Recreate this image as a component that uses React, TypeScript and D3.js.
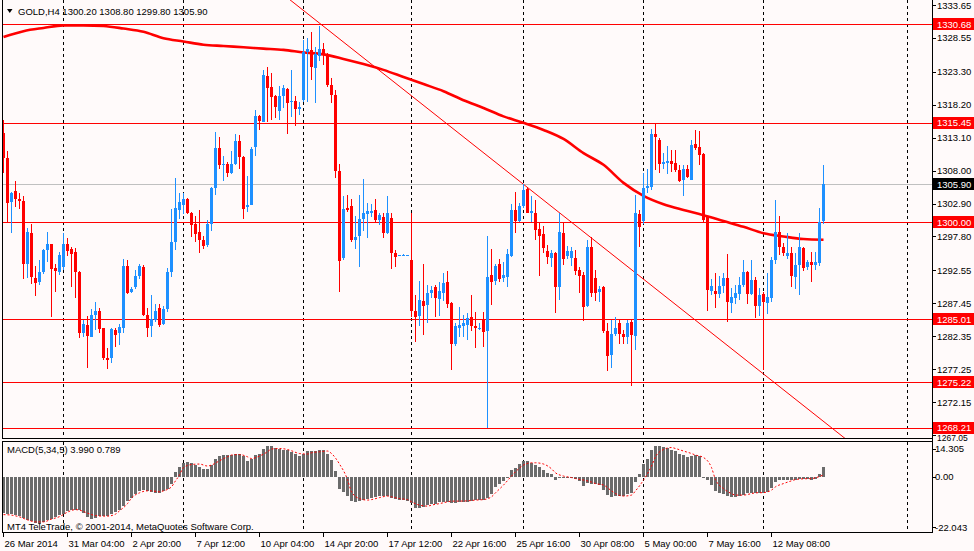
import * as d3 from 'd3';

// GOLD H4 candles (bar 0 = 26 Mar 2014)
const opens = [
  1313.8, 1310.0, 1303.2, 1304.8, 1303.6, 1303.3, 1293.6, 1298.3, 1291.3, 1290.8,
  1292.3, 1295.7, 1296.6, 1292.9, 1292.3, 1293.0, 1296.6, 1295.8, 1295.4, 1292.3,
  1282.8, 1284.1, 1282.3, 1285.6, 1286.3, 1283.6, 1279.0, 1279.0, 1283.3, 1282.8,
  1283.7, 1293.2, 1289.2, 1290.0, 1291.6, 1293.1, 1285.7, 1283.9, 1284.9, 1286.7,
  1284.3, 1286.6, 1292.3, 1297.0, 1301.9, 1302.7, 1303.6, 1301.5, 1299.7, 1298.5,
  1297.3, 1296.5, 1299.8, 1305.3, 1311.5, 1308.9, 1309.1, 1307.7, 1309.1, 1312.6,
  1310.1, 1302.3, 1302.7, 1311.7, 1316.5, 1315.6, 1322.6, 1321.0, 1319.5, 1317.3,
  1319.5, 1320.7, 1318.7, 1318.8, 1317.6, 1319.0, 1326.4, 1326.7, 1323.9, 1325.7,
  1326.9, 1326.1, 1321.2, 1319.7, 1308.0, 1294.4, 1302.2, 1302.5, 1297.2, 1297.8,
  1300.5, 1301.3, 1301.5, 1301.9, 1300.3, 1300.8, 1298.3, 1300.6, 1295.3, 1294.9,
  1294.9, 1294.9, 1294.1, 1286.3, 1285.5, 1287.8, 1287.2, 1289.1, 1289.9, 1288.1,
  1289.1, 1290.8, 1287.5, 1281.1, 1283.6, 1284.0, 1284.1, 1285.3, 1284.0, 1283.7,
  1284.9, 1283.2, 1291.8, 1290.9, 1293.5, 1291.4, 1291.5, 1294.8, 1301.9, 1300.2,
  1302.5, 1305.1, 1301.5, 1301.4, 1298.9, 1298.2, 1295.6, 1294.5, 1295.3, 1289.9,
  1298.3, 1294.8, 1294.5, 1294.5, 1292.6, 1291.8, 1287.0, 1296.1, 1291.3, 1289.2,
  1290.0, 1283.2, 1279.4, 1282.7, 1284.4, 1282.7, 1282.2, 1284.6, 1282.4, 1301.3,
  1300.2, 1305.3, 1305.4, 1313.6, 1312.7, 1309.0, 1309.2, 1309.5, 1309.2, 1308.1,
  1306.5, 1308.3, 1306.6, 1312.1, 1311.6, 1310.6, 1300.9, 1289.4, 1289.4, 1288.9,
  1290.1, 1291.4, 1287.5, 1288.2, 1288.9, 1290.3, 1292.3, 1288.9, 1291.0, 1287.0,
  1288.9, 1287.5, 1288.2, 1294.1, 1298.5, 1296.1, 1294.8, 1295.2, 1291.5, 1293.4,
  1296.0, 1293.0, 1293.9, 1293.4, 1293.7, 1300.2,
];
const highs = [
  1315.9, 1311.1, 1304.7, 1306.4, 1304.6, 1304.0, 1299.1, 1299.7, 1293.2, 1294.1,
  1295.8, 1298.5, 1296.6, 1293.6, 1295.4, 1298.3, 1297.6, 1296.2, 1296.0, 1292.4,
  1284.9, 1285.5, 1286.5, 1287.7, 1286.7, 1283.7, 1280.6, 1283.6, 1283.7, 1284.2,
  1294.3, 1294.1, 1290.0, 1292.6, 1293.5, 1293.4, 1286.7, 1288.7, 1287.4, 1287.3,
  1287.0, 1292.9, 1302.0, 1306.9, 1304.5, 1304.5, 1303.7, 1301.6, 1300.9, 1301.9,
  1297.8, 1300.3, 1305.5, 1314.0, 1313.2, 1310.2, 1309.3, 1311.0, 1313.6, 1313.5,
  1310.2, 1307.1, 1311.7, 1317.4, 1316.6, 1323.6, 1324.1, 1323.1, 1319.7, 1321.1,
  1321.3, 1320.8, 1323.6, 1319.5, 1318.7, 1328.3, 1328.6, 1329.4, 1327.1, 1330.4,
  1327.7, 1326.2, 1322.3, 1320.5, 1309.1, 1304.1, 1304.2, 1303.6, 1300.9, 1304.2,
  1306.7, 1303.0, 1302.9, 1303.6, 1301.4, 1301.4, 1304.0, 1301.4, 1295.7, 1295.0,
  1295.1, 1295.0, 1301.5, 1288.7, 1290.9, 1293.6, 1290.3, 1290.2, 1290.3, 1290.8,
  1292.2, 1292.5, 1287.6, 1284.4, 1286.9, 1285.6, 1285.9, 1288.7, 1286.1, 1284.4,
  1286.1, 1297.9, 1295.9, 1293.6, 1294.3, 1293.8, 1295.9, 1302.9, 1304.7, 1303.0,
  1306.0, 1305.4, 1304.0, 1303.4, 1299.9, 1299.4, 1296.5, 1295.7, 1295.4, 1301.4,
  1299.9, 1296.3, 1296.2, 1295.7, 1293.1, 1292.3, 1297.2, 1297.7, 1292.6, 1290.1,
  1290.1, 1284.4, 1284.9, 1285.3, 1284.8, 1283.3, 1284.9, 1284.9, 1304.2, 1301.9,
  1307.7, 1308.3, 1314.5, 1315.3, 1313.0, 1310.7, 1311.8, 1311.2, 1311.2, 1308.9,
  1308.9, 1308.9, 1312.7, 1314.3, 1314.2, 1310.7, 1301.0, 1291.2, 1292.1, 1291.6,
  1292.1, 1295.1, 1289.8, 1290.3, 1291.5, 1294.1, 1292.4, 1294.1, 1291.5, 1289.8,
  1289.2, 1292.1, 1294.6, 1303.4, 1300.9, 1296.8, 1298.3, 1296.2, 1295.3, 1298.3,
  1296.2, 1294.1, 1295.4, 1295.4, 1302.2, 1308.8,
];
const lows = [
  1307.7, 1300.0, 1298.3, 1302.4, 1302.1, 1291.2, 1291.4, 1290.4, 1288.6, 1290.3,
  1292.0, 1293.9, 1285.4, 1289.2, 1291.8, 1292.6, 1294.8, 1290.0, 1288.2, 1282.0,
  1282.3, 1277.5, 1282.2, 1283.3, 1282.8, 1278.6, 1277.3, 1278.2, 1280.7, 1281.0,
  1282.8, 1288.9, 1289.1, 1289.7, 1291.2, 1285.5, 1282.3, 1282.3, 1284.6, 1283.8,
  1284.1, 1286.1, 1291.5, 1295.7, 1300.5, 1301.3, 1301.3, 1297.7, 1297.0, 1295.2,
  1295.8, 1296.2, 1298.7, 1304.2, 1308.3, 1306.4, 1307.0, 1307.5, 1308.9, 1308.3,
  1300.5, 1301.6, 1302.6, 1310.3, 1314.3, 1315.5, 1315.6, 1315.8, 1316.2, 1315.8,
  1317.7, 1313.6, 1316.3, 1314.9, 1316.6, 1318.7, 1318.7, 1322.0, 1318.4, 1324.9,
  1324.4, 1321.0, 1318.5, 1306.8, 1289.2, 1294.1, 1301.6, 1297.0, 1295.8, 1293.1,
  1298.7, 1297.5, 1300.8, 1300.1, 1299.6, 1297.5, 1298.2, 1292.7, 1293.1, 1294.8,
  1294.8, 1294.8, 1285.4, 1281.5, 1284.0, 1282.5, 1284.4, 1288.2, 1285.4, 1285.5,
  1287.8, 1286.7, 1277.1, 1280.8, 1282.3, 1282.3, 1281.8, 1283.1, 1280.6, 1283.3,
  1280.7, 1268.2, 1287.2, 1290.3, 1290.8, 1290.8, 1290.0, 1294.6, 1298.3, 1300.0,
  1302.2, 1301.4, 1300.1, 1297.2, 1291.6, 1295.2, 1293.5, 1293.1, 1285.9, 1288.0,
  1293.4, 1294.3, 1293.2, 1291.8, 1289.0, 1284.7, 1286.8, 1288.5, 1287.8, 1287.7,
  1282.8, 1276.9, 1277.5, 1282.4, 1281.2, 1281.2, 1281.2, 1274.7, 1280.2, 1296.2,
  1299.8, 1304.5, 1305.0, 1308.1, 1307.7, 1308.3, 1307.5, 1307.8, 1307.8, 1306.2,
  1304.0, 1306.8, 1306.5, 1311.2, 1308.9, 1300.1, 1286.3, 1288.7, 1286.7, 1288.2,
  1289.1, 1284.6, 1285.9, 1287.4, 1288.0, 1290.0, 1287.3, 1288.7, 1285.1, 1285.5,
  1277.1, 1285.8, 1287.7, 1293.6, 1294.9, 1294.8, 1294.3, 1290.0, 1289.7, 1288.7,
  1292.4, 1292.6, 1290.8, 1292.6, 1293.2, 1299.8,
];
const closes = [
  1310.0, 1303.0, 1304.5, 1303.6, 1303.3, 1293.5, 1298.5, 1291.5, 1290.6, 1292.3,
  1295.7, 1296.6, 1292.8, 1292.5, 1294.9, 1296.6, 1295.6, 1295.1, 1292.3, 1282.8,
  1284.2, 1282.4, 1285.6, 1286.3, 1283.4, 1278.9, 1278.6, 1283.5, 1282.6, 1283.8,
  1293.2, 1289.1, 1289.7, 1291.6, 1293.2, 1285.7, 1283.7, 1285.0, 1286.3, 1284.1,
  1286.5, 1292.3, 1297.0, 1302.2, 1303.1, 1303.6, 1301.4, 1299.6, 1298.2, 1297.2,
  1296.3, 1299.7, 1305.3, 1311.5, 1308.9, 1309.1, 1307.7, 1309.1, 1312.6, 1310.1,
  1302.1, 1302.7, 1311.3, 1316.5, 1315.7, 1322.8, 1320.8, 1319.4, 1317.8, 1319.5,
  1320.8, 1318.5, 1318.8, 1317.5, 1317.8, 1326.4, 1326.8, 1324.1, 1326.1, 1326.9,
  1326.1, 1321.2, 1319.7, 1308.0, 1294.0, 1302.0, 1301.9, 1297.2, 1297.7, 1300.5,
  1301.4, 1301.8, 1301.8, 1300.3, 1301.1, 1298.3, 1301.5, 1295.2, 1294.6, 1294.9,
  1294.9, 1295.0, 1286.3, 1285.4, 1288.0, 1287.1, 1289.0, 1289.5, 1288.2, 1289.4,
  1290.6, 1287.3, 1281.1, 1284.0, 1284.1, 1284.4, 1285.2, 1284.0, 1283.7, 1283.7,
  1283.0, 1291.5, 1290.8, 1293.3, 1291.2, 1291.8, 1295.1, 1301.9, 1300.2, 1302.5,
  1305.0, 1301.5, 1301.7, 1298.8, 1297.9, 1296.0, 1294.6, 1295.2, 1290.0, 1298.5,
  1294.3, 1295.6, 1295.6, 1292.4, 1291.6, 1286.9, 1296.1, 1289.1, 1289.1, 1289.6,
  1283.1, 1279.3, 1282.7, 1283.7, 1282.7, 1282.2, 1284.4, 1282.5, 1301.4, 1299.2,
  1305.3, 1305.6, 1313.6, 1313.2, 1309.1, 1309.4, 1309.5, 1309.0, 1308.1, 1306.4,
  1308.3, 1307.0, 1312.0, 1311.5, 1310.4, 1300.3, 1289.5, 1290.1, 1288.9, 1290.1,
  1291.4, 1287.7, 1288.5, 1289.0, 1290.3, 1292.3, 1288.9, 1291.0, 1287.0, 1288.7,
  1287.7, 1288.5, 1294.1, 1298.5, 1296.1, 1295.2, 1295.2, 1291.6, 1293.4, 1296.1,
  1292.9, 1293.9, 1293.4, 1293.9, 1300.1, 1305.9,
];

// long moving average, sampled every 5 bars
const maIdx = [0, 5, 10, 15, 20, 25, 30, 35, 40, 45, 50, 55, 60, 65, 70, 75, 80, 85, 90, 95, 100,
  105, 110, 115, 120, 125, 130, 135, 140, 145, 150, 155, 160, 165, 170, 175, 180, 185, 190, 195, 200, 205];
const maVal = [1328.7, 1329.6, 1330.1, 1330.5, 1330.5, 1330.4, 1330.0, 1329.5, 1328.5, 1328.0, 1327.5,
  1327.3, 1327.1, 1326.9, 1326.7, 1326.3, 1326.0, 1325.3, 1324.5, 1323.6, 1322.5, 1321.4, 1320.3,
  1318.9, 1317.7, 1316.4, 1315.4, 1314.3, 1312.9, 1310.7, 1308.9, 1306.1, 1304.1, 1302.8, 1301.9,
  1301.1, 1300.2, 1299.3, 1298.3, 1297.8, 1297.4, 1297.3];

// MACD(5,34,5) histogram, one per bar
const macd = [
  -14.4, -14.7, -14.9, -15.2, -15.7, -16.4, -17.1, -17.7, -18.4, -18.7,
  -18.1, -17.3, -16.7, -16.0, -15.3, -14.7, -13.6, -13.1, -13.1, -13.3,
  -14.4, -16.0, -16.7, -16.3, -15.7, -15.6, -15.7, -14.9, -14.1, -13.3,
  -11.7, -9.6, -8.3, -6.9, -5.7, -5.3, -5.6, -6.1, -6.4, -6.4,
  -5.6, -4.7, -2.7, 2.0, 4.0, 5.6, 5.9, 5.6, 4.9, 4.0,
  3.2, 3.2, 4.7, 7.3, 8.3, 8.7, 8.8, 8.9, 9.3, 9.1,
  8.3, 6.4, 7.3, 8.9, 9.3, 11.3, 12.3, 12.3, 11.5, 11.1,
  10.9, 10.7, 10.0, 9.3, 8.3, 9.3, 10.4, 10.4, 10.4, 10.7,
  10.7, 9.3, 6.9, 2.4, -4.7, -6.0, -7.7, -9.6, -10.0, -9.6,
  -9.1, -8.8, -8.5, -8.0, -7.7, -7.5, -7.7, -8.3, -8.8, -9.1,
  -9.3, -9.6, -10.4, -12.3, -12.3, -12.0, -11.3, -10.9, -10.7, -10.1,
  -10.0, -10.1, -10.3, -10.3, -10.1, -10.0, -9.9, -9.6, -9.3, -9.3,
  -9.1, -8.3, -6.7, -4.0, -2.7, -1.7, -0.3, 2.7, 3.7, 5.3,
  6.4, 6.4, 5.6, 4.7, 4.0, 2.9, 1.7, 1.1, -1.3, -0.3,
  0.0, -0.1, -0.3, -0.7, -1.6, -3.5, -2.4, -2.7, -2.9, -3.3,
  -5.3, -7.3, -8.0, -7.7, -7.5, -7.5, -6.9, -6.4, -2.0, 1.3,
  5.3, 7.3, 10.7, 12.3, 12.3, 12.0, 11.5, 10.9, 10.4, 9.3,
  8.7, 8.0, 8.3, 8.7, 8.3, -0.3, -1.1, -3.3, -5.6, -6.4,
  -6.9, -7.5, -8.0, -8.0, -7.6, -7.1, -6.5, -6.4, -6.4, -6.4,
  -6.3, -5.9, -4.4, -2.0, -1.3, -1.1, -1.1, -1.3, -1.1, -0.9,
  -0.8, -0.9, -1.1, -0.7, 1.1, 3.99,
];

// signal line, read at these bars
const sigIdx = [0, 2, 4, 6, 8, 10, 12, 14, 16, 18, 19, 21, 23, 25, 26, 28, 29, 31, 32, 34, 36, 37, 39, 40,
  42, 43, 44, 45, 47, 49, 51, 52, 54, 56, 57, 59, 61, 62, 64, 66, 67, 69, 71, 72, 74, 76, 77, 79, 81, 82,
  84, 86, 87, 89, 91, 92, 94, 96, 97, 99, 101, 102, 104, 106, 107, 109, 111, 112, 114, 116, 118, 120,
  122, 123, 125, 127, 128, 130, 132, 133, 135, 137, 138, 140, 142, 143, 145, 147, 148, 150, 152, 153,
  155, 157, 158, 160, 162, 163, 165, 167, 168, 170, 172, 173, 175, 177, 178, 180, 182, 183, 185, 187,
  188, 190, 192, 193, 195, 197, 198, 200, 202, 203, 205];
const sigVal = [-15.1, -15.3, -16.0, -17.2, -18.0, -18.0, -16.9, -15.9, -14.1, -13.1, -13.3, -14.5, -15.5,
  -15.7, -15.7, -14.9, -13.6, -10.7, -8.5, -6.4, -5.6, -5.6, -6.0, -5.6, -4.0, -1.6, 0.7, 3.7, 4.9, 5.1,
  4.3, 4.7, 6.4, 8.0, 8.7, 8.9, 8.0, 7.3, 8.3, 10.0, 11.1, 11.3, 10.9, 10.4, 9.3, 9.1, 9.6, 10.0, 10.3,
  9.3, 5.1, -1.1, -6.0, -8.7, -9.3, -9.1, -8.3, -7.7, -8.0, -8.7, -9.1, -10.0, -11.3, -11.7, -11.3,
  -10.7, -10.0, -9.7, -9.7, -9.6, -9.3, -9.1, -8.0, -6.4, -3.3, 0.3, 2.0, 4.7, 5.6, 5.6, 5.1, 3.2, 1.6,
  0.3, -0.3, -0.7, -1.3, -2.1, -2.7, -3.3, -5.6, -6.7, -7.7, -7.3, -5.6, -1.3, 4.3, 8.0, 10.9, 11.7,
  11.3, 10.3, 9.3, 8.7, 7.7, 3.7, -1.1, -4.7, -6.7, -7.3, -7.3, -6.7, -6.4, -6.3, -5.3, -4.0, -2.7,
  -1.6, -1.1, -0.8, -0.7, -0.4, 0.789];

// drawn objects
const levels = [1330.68, 1315.45, 1300.0, 1285.01, 1275.22, 1268.21];
const bid = 1305.9;
const trendIdx = [75, 190];
const trendVal = [1332.8, 1276.5];

// axes
const priceTicks = ['1333.65', '1328.55', '1323.30', '1318.20', '1313.10', '1308.00', '1302.90',
  '1297.80', '1292.55', '1287.45', '1282.35', '1277.25', '1272.15', '1267.05'];
const macdTicks = [14.305, 0, -22.043];
const timeIdx = [0, 16, 32, 48, 64, 80, 96, 112, 128, 144, 160, 176, 192];
const timeLabels = ['26 Mar 2014', '31 Mar 04:00', '2 Apr 20:00', '7 Apr 12:00', '10 Apr 04:00',
  '14 Apr 20:00', '17 Apr 12:00', '22 Apr 16:00', '25 Apr 16:00', '30 Apr 08:00', '5 May 00:00',
  '7 May 16:00', '12 May 08:00'];
const gridIdx = [15, 45, 75, 102, 130, 160, 190, 226];

const W = 974;
const H = 551;
const AX = 932.5;
const BG = '#fffafa';
const BULL = '#1e90ff';
const BEAR = '#ff0000';
const FONT = '"Liberation Sans", Arial, sans-serif';

export default function App() {
  const x = d3.scaleLinear().domain([0, 205]).range([3.5, 823.5]);
  const y = d3.scaleLinear().domain([1267.05, 1333.65]).range([435, 5]);
  const ym = d3.scaleLinear().domain([-22.043, 14.305]).range([532, 441]);

  const maLine = d3.line<number>()
    .x((d, i) => x(maIdx[i]))
    .y((d) => y(d))
    .curve(d3.curveMonotoneX);
  const sigLine = d3.line<number>()
    .x((d, i) => x(sigIdx[i]))
    .y((d) => ym(d))
    .curve(d3.curveMonotoneX);

  const slope = (trendVal[1] - trendVal[0]) / (trendIdx[1] - trendIdx[0]);
  const tA = -20;
  const tB = 240;

  // bottom axis label sits in the narrow gap under the last level box
  const lastTick = priceTicks[priceTicks.length - 1];

  return (
    <svg
      width={W}
      height={H}
      style={{ position: 'absolute', left: 0, top: 0, background: BG }}
      fontFamily={FONT}
    >
      <defs>
        <clipPath id="mainClip">
          <rect x={3} y={0} width={AX - 3} height={438} />
        </clipPath>
        <clipPath id="macdClip">
          <rect x={3} y={442} width={AX - 3} height={90} />
        </clipPath>
      </defs>
      <rect width={W} height={H} fill={BG} />

      {/* week separators */}
      <g stroke="#000" strokeDasharray="3,3" shapeRendering="crispEdges">
        {gridIdx.map((g) => (
          <g key={g}>
            <line x1={x(g)} x2={x(g)} y1={0} y2={438} />
            <line x1={x(g)} x2={x(g)} y1={442} y2={532} />
          </g>
        ))}
      </g>

      <g clipPath="url(#mainClip)">
        <line x1={3} x2={AX} y1={y(bid)} y2={y(bid)} stroke="#c0c0c0" shapeRendering="crispEdges" />
        {levels.map((l) => (
          <line key={l} x1={3} x2={AX} y1={Math.round(y(l)) + 0.5} y2={Math.round(y(l)) + 0.5}
            stroke="#ff0000" shapeRendering="crispEdges" />
        ))}
        <line
          x1={x(tA)} y1={y(trendVal[0] + slope * (tA - trendIdx[0]))}
          x2={x(tB)} y2={y(trendVal[0] + slope * (tB - trendIdx[0]))}
          stroke="#ff0000" strokeWidth={1}
        />
        <path d={maLine(maVal) ?? ''} fill="none" stroke="#ff0000" strokeWidth={2.6} />

        <g shapeRendering="crispEdges">
          {opens.map((o, i) => {
            const c = closes[i];
            const col = c >= o ? BULL : BEAR;
            const top = y(Math.max(o, c));
            const bh = Math.max(1, y(Math.min(o, c)) - top);
            return (
              <g key={i}>
                <line x1={x(i)} x2={x(i)} y1={y(highs[i])} y2={y(lows[i])} stroke={col} />
                <rect x={x(i) - 1.5} y={top} width={3} height={bh} fill={col} />
              </g>
            );
          })}
        </g>
      </g>

      {/* MACD */}
      <g clipPath="url(#macdClip)" shapeRendering="crispEdges">
        {macd.map((v, i) => (
          <rect key={i} x={x(i) - 1.5} width={3}
            y={Math.min(ym(0), ym(v))} height={Math.max(1, Math.abs(ym(v) - ym(0)))}
            fill="#6b6b6b" />
        ))}
      </g>
      <path d={sigLine(sigVal) ?? ''} fill="none" stroke="#ff0000" strokeWidth={1}
        strokeDasharray="2,2" clipPath="url(#macdClip)" />

      {/* panel frames */}
      <g stroke="#000" fill="none" shapeRendering="crispEdges">
        <line x1={2.5} x2={2.5} y1={0} y2={438.5} />
        <line x1={2} x2={AX} y1={438.5} y2={438.5} />
        <line x1={2.5} x2={2.5} y1={441.5} y2={532.5} />
        <line x1={2} x2={AX} y1={441.5} y2={441.5} />
        <line x1={2} x2={AX} y1={532.5} y2={532.5} />
        <line x1={AX} x2={AX} y1={0} y2={533} />
      </g>

      {/* price axis */}
      <g fill="#000">
        {priceTicks.map((t) => (
          <g key={t}>
            <line x1={AX} x2={AX + 3} y1={Math.round(y(+t)) + 0.5} y2={Math.round(y(+t)) + 0.5}
              stroke="#000" shapeRendering="crispEdges" />
            {t === lastTick ? (
              <text x={937} y={440.5} fontSize={8.5}>{t}</text>
            ) : (
              <text x={937} y={y(+t) + 3.5} fontSize={9.5}>{t}</text>
            )}
          </g>
        ))}
      </g>
      {levels.map((l) => (
        <g key={l}>
          <rect x={AX + 0.5} y={Math.round(y(l)) - 6} width={W - AX} height={12} fill="#ff0000" />
          <text x={937} y={y(l) + 3.5} fontSize={9.5} fill="#fff">{l.toFixed(2)}</text>
        </g>
      ))}
      <rect x={AX + 0.5} y={Math.round(y(bid)) - 6} width={W - AX} height={12} fill="#000" />
      <text x={937} y={y(bid) + 3.5} fontSize={9.5} fill="#fff">{bid.toFixed(2)}</text>

      {/* MACD axis */}
      <g fontSize={9.5} fill="#000">
        {macdTicks.map((t, k) => {
          const ty = k === 0 ? ym(t) + 7.5 : k === 2 ? ym(t) - 5 : ym(t);
          return (
            <g key={t}>
              <line x1={AX} x2={AX + 3} y1={Math.round(ty) + 0.5} y2={Math.round(ty) + 0.5}
                stroke="#000" shapeRendering="crispEdges" />
              <text x={935} y={ty + 3.5}>{t === 0 ? '0.00' : t.toFixed(3)}</text>
            </g>
          );
        })}
      </g>

      {/* time axis */}
      <g fontSize={9.5} fill="#000">
        {timeIdx.map((t, k) => (
          <g key={t}>
            <line x1={x(t)} x2={x(t)} y1={533} y2={537} stroke="#000" shapeRendering="crispEdges" />
            <text x={x(t) + 1} y={546.5}>{timeLabels[k]}</text>
          </g>
        ))}
      </g>

      {/* captions */}
      <path d="M7,9 L12.5,9 L9.75,13 Z" fill="#000" />
      <text x={18} y={14.5} fontSize={9.5} fill="#000">GOLD,H4  1300.20 1308.80 1299.80 1305.90</text>
      <text x={7} y={452.5} fontSize={9.5} fill="#000">MACD(5,34,5) 3.990 0.789</text>
      <text x={7} y={529.5} fontSize={9.5} fill="#000">MT4 TeleTrade, © 2001-2014, MetaQuotes Software Corp.</text>
    </svg>
  );
}
